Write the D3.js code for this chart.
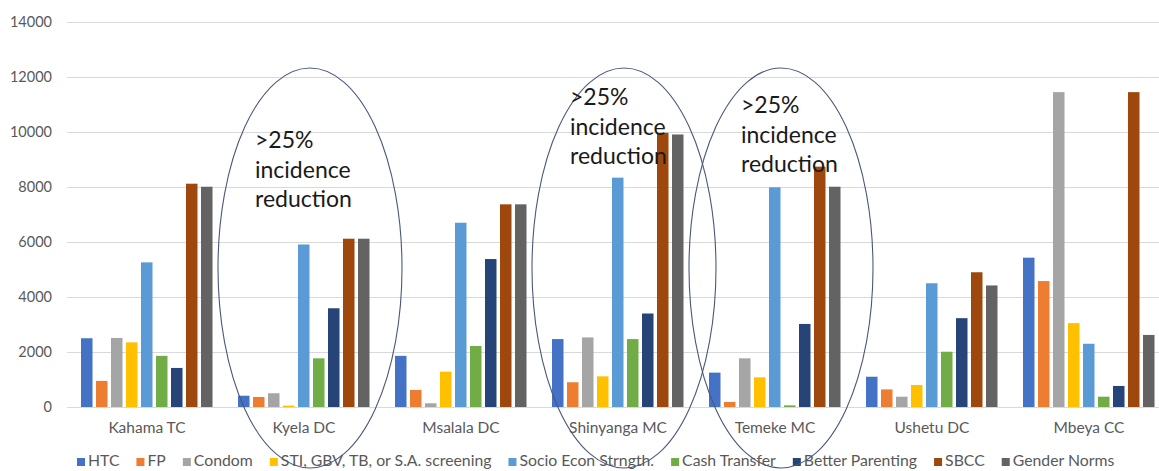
<!DOCTYPE html>
<html>
<head>
<meta charset="utf-8">
<script src="https://cdn.jsdelivr.net/npm/d3@7"></script>
<style>
  html, body { margin: 0; padding: 0; background: #ffffff; }
  svg { display: block; }
  text { font-family: Lato, "Open Sans", sans-serif; }
</style>
</head>
<body>
<svg id="chart" width="1159" height="471"></svg>
<script>
// Districts along the x axis
const districts = ["Kahama TC", "Kyela DC", "Msalala DC", "Shinyanga MC", "Temeke MC", "Ushetu DC", "Mbeya CC"];

// Intervention series (legend order)
const seriesNames = ["HTC", "FP", "Condom", "STI, GBV, TB, or S.A. screening", "Socio Econ Strngth.",
  "Cash Transfer", "Better Parenting", "SBCC", "Gender Norms"];
const seriesColors = ["#4472c4", "#ed7d31", "#a5a5a5", "#ffc000", "#5b9bd5", "#70ad47", "#264478", "#9e480e", "#636363"];

// Values per series, one entry per district
const htc        = [2500, 410, 1860, 2470, 1250, 1100, 5430];
const fp         = [950, 365, 620, 900, 185, 640, 4580];
const condom     = [2510, 500, 135, 2530, 1770, 375, 11450];
const screening  = [2350, 50, 1285, 1115, 1080, 800, 3050];
const socioEcon  = [5260, 5910, 6700, 8340, 7990, 4500, 2300];
const cash       = [1860, 1770, 2220, 2470, 60, 2010, 375];
const parenting  = [1420, 3590, 5380, 3400, 3020, 3230, 765];
const sbcc       = [8120, 6120, 7370, 9970, 8740, 4900, 11450];
const gender     = [8010, 6120, 7370, 9910, 8010, 4420, 2620];
const seriesValues = [htc, fp, condom, screening, socioEcon, cash, parenting, sbcc, gender];

// Y axis ticks
const yTicks = [0, 2000, 4000, 6000, 8000, 10000, 12000, 14000];

// Highlighted districts and their note
const highlighted = ["Kyela DC", "Shinyanga MC", "Temeke MC"];
const noteLines = [">25%", "incidence", "reduction"];

const svg = d3.select("#chart");
const W = 1159, H = 471;
svg.append("rect").attr("width", W).attr("height", H).attr("fill", "#ffffff");

const plot = { left: 68, right: 1167, top: 22, bottom: 407 };

const y = d3.scaleLinear().domain([0, 14000]).range([plot.bottom, plot.top]);
const x0 = d3.scaleBand().domain(districts).range([plot.left, plot.right]).paddingInner(0).paddingOuter(0);
const x1 = d3.scaleBand().domain(seriesNames).range([13, 144.5]).paddingInner(0.233).paddingOuter(0);

// Gridlines
svg.append("g").selectAll("line").data(yTicks).join("line")
  .attr("x1", plot.left - 1).attr("x2", W)
  .attr("y1", d => Math.round(y(d)) + 0.5).attr("y2", d => Math.round(y(d)) + 0.5)
  .attr("stroke", "#d9d9d9").attr("stroke-width", 1);

// Y axis labels
const yAxis = d3.axisLeft(y).tickValues(yTicks).tickSize(0).tickPadding(0).tickFormat(d3.format("d"));
const gy = svg.append("g").attr("transform", "translate(52,0)").call(yAxis);
gy.select(".domain").remove();
gy.selectAll("text").attr("fill", "#595959").style("font-size", "14.5px")
  .style("font-family", "Lato, sans-serif");

// Bars
const groups = svg.append("g").selectAll("g").data(districts).join("g")
  .attr("transform", d => `translate(${x0(d)},0)`);
groups.selectAll("rect")
  .data((d, i) => seriesNames.map((s, k) => ({ s, k, v: seriesValues[k][i] })))
  .join("rect")
  .attr("x", d => x1(d.s))
  .attr("width", x1.bandwidth())
  .attr("y", d => y(d.v))
  .attr("height", d => y(0) - y(d.v))
  .attr("fill", d => seriesColors[d.k]);

// District labels, centred under each group of bars
svg.append("g").selectAll("text").data(districts).join("text")
  .attr("x", d => x0(d) + 79)
  .attr("y", 433)
  .attr("text-anchor", "middle")
  .attr("fill", "#595959")
  .style("font-size", "15.5px")
  .text(d => d);

// Legend laid out left to right
const legend = svg.append("g").attr("transform", "translate(77,0)");
let lx = 0;
seriesNames.forEach((name, k) => {
  const item = legend.append("g").attr("transform", `translate(${lx},0)`);
  item.append("rect").attr("x", 0).attr("y", 458).attr("width", 8).attr("height", 8).attr("fill", seriesColors[k]);
  const t = item.append("text").attr("x", 11).attr("y", 466)
    .attr("fill", "#595959").style("font-size", "15.8px").text(name);
  lx += 11 + t.node().getComputedTextLength() + 17;
});

// Ellipses marking districts with >25% incidence reduction
const note = svg.append("g");
highlighted.forEach(d => {
  const cx = x0(d) + 85;
  note.append("ellipse")
    .attr("cx", cx).attr("cy", 268)
    .attr("rx", 92).attr("ry", 200)
    .attr("fill", "none").attr("stroke", "#4a5878").attr("stroke-width", 1.1);
});

// Note text inside each ellipse
const notePos = [
  { d: "Kyela DC", dx: 30, base: 148 },
  { d: "Shinyanga MC", dx: 31, base: 105 },
  { d: "Temeke MC", dx: 45, base: 113 }
];
notePos.forEach(p => {
  const t = note.append("text").attr("x", x0(p.d) + p.dx).attr("y", p.base)
    .attr("fill", "#1a1a1a").style("font-size", "23px");
  noteLines.forEach((line, i) => {
    t.append("tspan").attr("x", x0(p.d) + p.dx).attr("dy", i === 0 ? 0 : 29.5).text(line);
  });
});
</script>
</body>
</html>
